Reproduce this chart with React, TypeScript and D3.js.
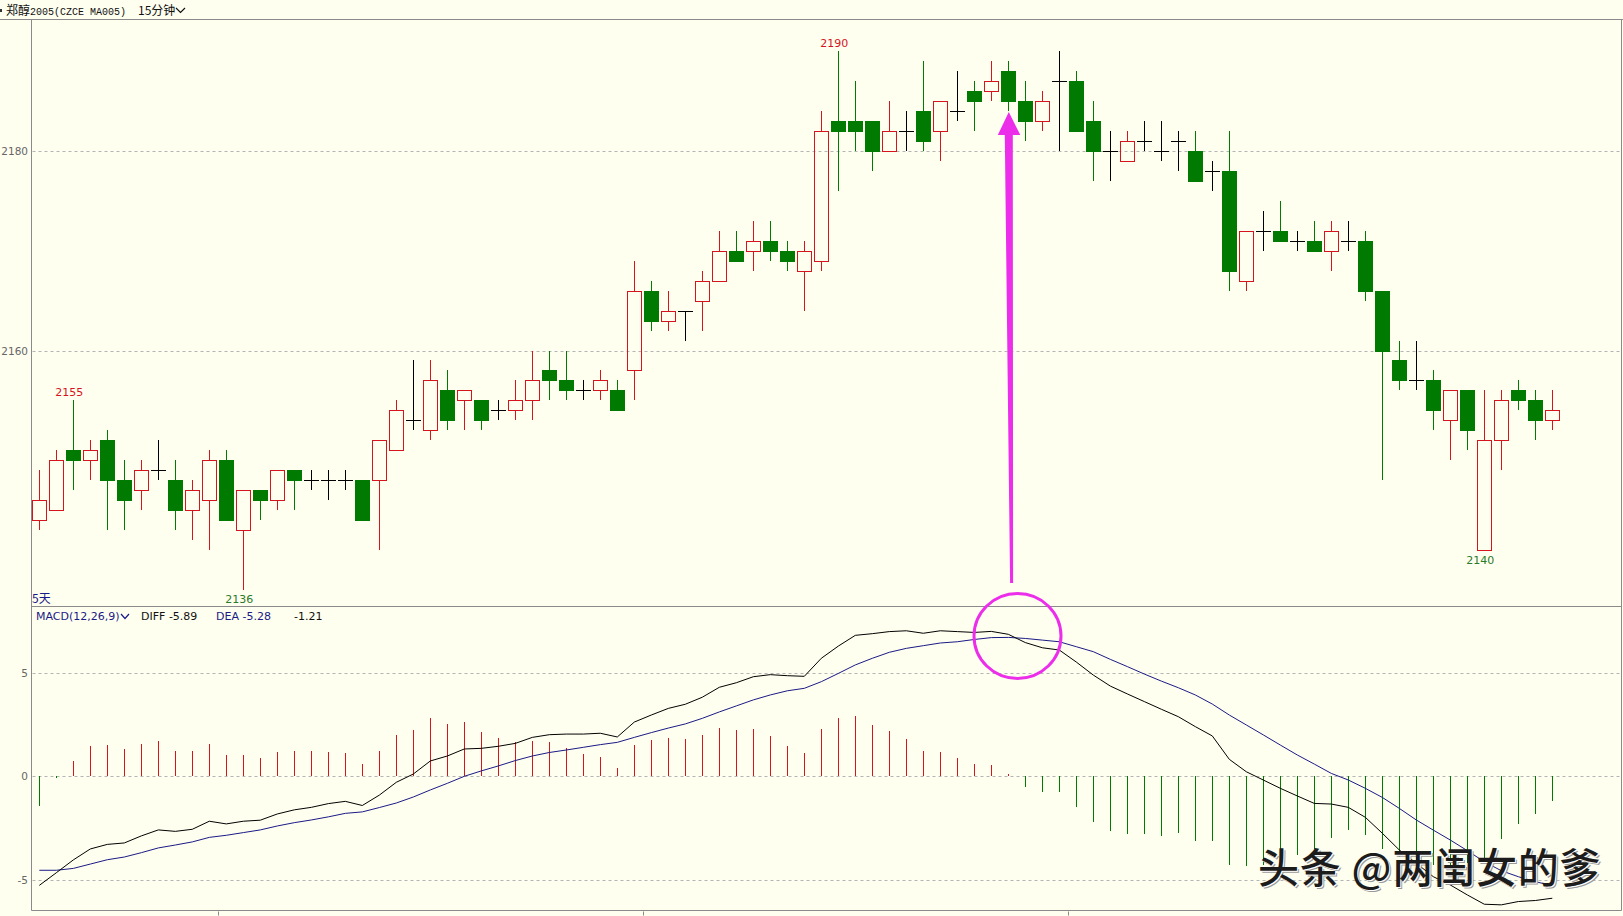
import React, { useEffect } from 'react';
import * as d3 from 'd3';

const W = 1623;
const H = 916;
const BG = '#fffff0';
const RED = '#d5141e';
const GREEN = '#007a00';
const NAVY = '#1a1a86';
const GRID = '#b4b4b4';
const FRAME = '#8a8a8a';
const MAGENTA = '#ec2eea';

// 15-minute candles, index 0..89
const opens = [2143,2144,2150,2149,2151,2147,2146,2148,2147,2144,2145,2149,2142,2146,2145,2148,2147,2147,2147,2147,2147,2150,2153,2152,2156,2155,2155,2154,2154,2155,2158,2157,2156,2156,2156,2158,2166,2163,2164,2165,2167,2170,2170,2171,2170,2168,2169,2183,2183,2183,2180,2182,2184,2182,2184,2186,2186,2188,2185,2183,2187,2187,2183,2180,2179,2181,2180,2181,2180,2178,2178,2167,2172,2172,2171,2171,2170,2171,2171,2166,2159,2157,2157,2153,2156,2140,2151,2156,2155,2153];
const highs = [2148,2150,2155,2151,2152,2149,2149,2151,2149,2147,2150,2150,2146,2146,2148,2148,2148,2148,2148,2147,2151,2155,2159,2159,2158,2156,2155,2155,2157,2160,2160,2160,2157,2158,2157,2169,2167,2166,2164,2168,2172,2172,2173,2173,2171,2171,2184,2190,2187,2183,2185,2184,2189,2185,2188,2187,2189,2189,2187,2186,2190,2188,2185,2182,2182,2183,2183,2182,2182,2179,2182,2172,2174,2175,2172,2173,2173,2173,2172,2166,2161,2161,2158,2156,2156,2156,2156,2157,2156,2156];
const lows = [2142,2144,2146,2147,2142,2142,2144,2147,2142,2141,2140,2143,2136,2143,2144,2144,2146,2145,2146,2143,2140,2150,2152,2151,2152,2152,2152,2153,2153,2153,2155,2155,2155,2155,2154,2155,2162,2162,2161,2162,2167,2169,2168,2169,2168,2164,2168,2176,2180,2178,2180,2180,2180,2179,2183,2182,2185,2184,2181,2182,2180,2182,2177,2177,2179,2180,2179,2178,2177,2176,2166,2166,2170,2171,2170,2170,2168,2170,2165,2147,2156,2156,2152,2149,2150,2140,2148,2154,2151,2152];
const closes = [2145,2149,2149,2150,2147,2145,2148,2148,2144,2146,2149,2143,2146,2145,2148,2147,2147,2147,2147,2143,2151,2154,2153,2157,2153,2156,2153,2154,2155,2157,2157,2156,2156,2157,2154,2166,2163,2164,2164,2167,2170,2169,2171,2170,2169,2170,2182,2182,2182,2180,2182,2182,2181,2185,2184,2185,2187,2185,2183,2185,2187,2182,2180,2180,2181,2181,2180,2181,2177,2178,2168,2172,2172,2171,2171,2170,2172,2171,2166,2160,2157,2157,2154,2156,2152,2151,2155,2155,2153,2154];

// MACD(12,26,9)
const diffLine = [-5.27,-4.66,-4.04,-3.51,-3.29,-3.22,-2.88,-2.59,-2.66,-2.56,-2.17,-2.30,-2.17,-2.12,-1.82,-1.62,-1.50,-1.32,-1.21,-1.41,-0.91,-0.29,0.11,0.74,0.98,1.32,1.35,1.45,1.59,1.88,2.01,2.04,2.04,2.08,1.90,2.62,2.96,3.28,3.48,3.82,4.30,4.52,4.81,4.91,4.86,4.83,5.70,6.29,6.81,6.89,6.99,7.03,6.91,7.03,6.99,6.95,7.00,6.86,6.46,6.21,6.10,5.52,4.89,4.36,3.98,3.61,3.24,2.88,2.40,1.95,0.82,0.22,-0.18,-0.58,-0.95,-1.31,-1.34,-1.50,-1.98,-2.75,-3.56,-4.20,-4.85,-5.25,-5.73,-6.18,-6.21,-6.05,-6.00,-5.89];
const deaLine = [-4.54,-4.54,-4.45,-4.24,-4.03,-3.90,-3.69,-3.46,-3.32,-3.17,-2.95,-2.85,-2.72,-2.59,-2.40,-2.24,-2.11,-1.96,-1.79,-1.72,-1.51,-1.29,-1.00,-0.66,-0.34,0.00,0.26,0.50,0.76,0.98,1.15,1.27,1.40,1.53,1.64,1.88,2.11,2.33,2.53,2.80,3.11,3.40,3.69,3.93,4.13,4.25,4.57,4.97,5.38,5.70,5.99,6.18,6.31,6.44,6.50,6.61,6.70,6.71,6.66,6.58,6.50,6.26,6.02,5.65,5.30,4.94,4.60,4.28,3.93,3.49,2.96,2.48,2.00,1.51,1.03,0.59,0.14,-0.18,-0.58,-1.02,-1.55,-2.11,-2.60,-3.08,-3.59,-4.13,-4.56,-4.85,-5.09,-5.28];
const macdBars = [-1.42,-0.08,0.74,1.48,1.51,1.33,1.58,1.72,1.24,1.24,1.58,1.01,1.01,0.90,1.19,1.24,1.24,1.19,1.13,0.61,1.24,2.01,2.25,2.83,2.54,2.64,2.15,1.86,1.64,1.72,1.66,1.37,1.08,0.93,0.40,1.51,1.75,1.86,1.80,2.01,2.33,2.23,2.28,1.95,1.46,1.11,2.28,2.82,2.92,2.48,2.19,1.80,1.22,1.17,0.88,0.59,0.54,0.11,-0.50,-0.74,-0.74,-1.47,-2.19,-2.63,-2.79,-2.79,-2.89,-2.73,-3.11,-3.11,-4.28,-4.33,-4.30,-4.10,-3.80,-3.50,-2.96,-2.60,-2.83,-3.50,-3.90,-4.10,-4.30,-4.30,-4.20,-4.10,-3.04,-2.30,-1.80,-1.21];

const priceTicks = [2160, 2180];
const macdTicks = [-5, 0, 5];
const extremeMarks = [
  { i: 2, kind: 'high' },
  { i: 12, kind: 'low' },
  { i: 47, kind: 'high' },
  { i: 85, kind: 'low' },
];
const dayBreaks = [10, 35, 60];
const arrowCandle = 57;

const NUM_FONT = '"DejaVu Sans", Verdana, sans-serif';
const CJK_FONT = '"Noto Sans CJK SC", sans-serif';

export default function App() {
  useEffect(() => {
    document.body.style.margin = '0';
    document.body.style.background = BG;
  }, []);

  const n = closes.length;
  const x = d3.scaleLinear().domain([0, n - 1]).range([39.3, 39.3 + 17 * (n - 1)]);
  const yP = d3.scaleLinear().domain([2160, 2180]).range([350.5, 151]);
  const yM = d3.scaleLinear().domain([0, 5]).range([776.3, 672.8]);

  const left = 31.5;
  const right = 1621.5;
  const top = 19.5;
  const divider = 606.5;
  const bottom = 910.5;

  const r = (v: number) => Math.round(v);
  const line = d3.line<number>().x((_, i) => x(i)).y((d) => yM(d));

  const candles = closes.map((c, i) => {
    const o = opens[i], h = highs[i], l = lows[i];
    const cx = r(x(i));
    const wx = cx + 0.5;
    if (c > o) {
      const yt = r(yP(c)), yb = r(yP(o));
      return (
        <g key={i}>
          {h > c && <line x1={wx} x2={wx} y1={r(yP(h))} y2={yt} stroke={RED} />}
          {l < o && <line x1={wx} x2={wx} y1={yb} y2={r(yP(l))} stroke={RED} />}
          <rect x={cx - 7 + 0.5} y={yt + 0.5} width={14} height={yb - yt} fill="none" stroke={RED} />
        </g>
      );
    } else if (c < o) {
      const yt = r(yP(o)), yb = r(yP(c));
      return (
        <g key={i}>
          <line x1={wx} x2={wx} y1={r(yP(h))} y2={r(yP(l))} stroke={GREEN} />
          <rect x={cx - 7} y={yt} width={15} height={yb - yt + 1} fill={GREEN} />
        </g>
      );
    }
    const yc = r(yP(c)) + 0.5;
    return (
      <g key={i}>
        <line x1={wx} x2={wx} y1={r(yP(h))} y2={r(yP(l))} stroke="#000" />
        <line x1={cx - 7} x2={cx + 8} y1={yc} y2={yc} stroke="#000" />
      </g>
    );
  });

  const bars = macdBars.map((v, i) => {
    const wx = r(x(i)) + 0.5;
    return (
      <line key={i} x1={wx} x2={wx} y1={r(yM(0))} y2={r(yM(v))} stroke={v >= 0 ? RED : GREEN} />
    );
  });

  const arrowX = x(arrowCandle) + 0.5;
  const tipY = 112;
  const headBase = 135;
  const arrowPts = [
    [arrowX - 11, headBase],
    [arrowX, tipY],
    [arrowX + 11.5, headBase],
    [arrowX + 4, headBase],
    [arrowX + 4.3, 583],
    [arrowX + 1.3, 583],
    [arrowX - 4, headBase],
  ].map((p) => p.join(',')).join(' ');

  return (
    <svg
      width={W}
      height={H}
      style={{ position: 'absolute', left: 0, top: 0, display: 'block', background: BG }}
    >
      <rect x={0} y={0} width={W} height={H} fill={BG} />

      {/* title */}
      <rect x={0} y={9} width={2} height={3} fill="#333" />
      <text x={6} y={15} fontSize={12} fill="#111">
        <tspan fontFamily={CJK_FONT}>郑醇</tspan>
        <tspan fontFamily='"Liberation Mono", "DejaVu Sans Mono", monospace' fontSize={10}>2005(CZCE MA005)</tspan>
        <tspan fontFamily={CJK_FONT} dx={12}>15</tspan>
        <tspan fontFamily={CJK_FONT}>分钟</tspan>
      </text>
      <path d="M176,8 L180.5,12.5 L185,8" fill="none" stroke="#111" strokeWidth={1.2} />

      {/* frame */}
      <line x1={0} x2={W} y1={top} y2={top} stroke={FRAME} />
      <line x1={left} x2={left} y1={top} y2={bottom} stroke={FRAME} />
      <line x1={right} x2={right} y1={top} y2={bottom} stroke={FRAME} />
      <line x1={left} x2={right} y1={divider} y2={divider} stroke={FRAME} />
      <line x1={left} x2={right} y1={bottom} y2={bottom} stroke={FRAME} />
      {dayBreaks.map((d) => {
        const tx = r(x(d) + 8.5) + 0.5;
        return <line key={d} x1={tx} x2={tx} y1={bottom + 1} y2={bottom + 5} stroke={FRAME} />;
      })}

      {/* price grid & labels */}
      {priceTicks.map((t) => (
        <g key={t}>
          <line x1={left + 1} x2={right - 1} y1={r(yP(t)) + 0.5} y2={r(yP(t)) + 0.5} stroke={GRID} strokeDasharray="3,3" />
          <text x={28} y={yP(t) + 4} fontSize={10.5} fontFamily={NUM_FONT} fill="#666" textAnchor="end">{t}</text>
        </g>
      ))}

      {/* candles */}
      {candles}

      {/* high/low labels */}
      {extremeMarks.map((m) => {
        const isHigh = m.kind === 'high';
        const v = isHigh ? highs[m.i] : lows[m.i];
        const yy = isHigh ? yP(v) - 4.5 : yP(v) + 13.5;
        return (
          <text key={m.i} x={x(m.i) - 4} y={yy} fontSize={11} fontFamily={NUM_FONT} textAnchor="middle" fill={isHigh ? RED : '#2a7a2a'}>
            {v}
          </text>
        );
      })}

      <text x={32} y={603} fontSize={12} fontFamily={CJK_FONT} fill={NAVY}>5天</text>

      {/* MACD panel */}
      <text y={620} fontSize={11} fontFamily={NUM_FONT}>
        <tspan x={36} fill={NAVY}>MACD(12,26,9)</tspan>
      </text>
      <path d="M121,614 L125,618.5 L129,614" fill="none" stroke={NAVY} strokeWidth={1.2} />
      <text y={620} fontSize={11} fontFamily={NUM_FONT}>
        <tspan x={141} fill="#111">DIFF {diffLine[n - 1].toFixed(2)}</tspan>
        <tspan x={216} fill={NAVY}>DEA {deaLine[n - 1].toFixed(2)}</tspan>
        <tspan x={294} fill="#111">{macdBars[n - 1].toFixed(2)}</tspan>
      </text>

      {macdTicks.map((t) => (
        <g key={t}>
          <line x1={left + 1} x2={right - 1} y1={r(yM(t)) + 0.5} y2={r(yM(t)) + 0.5} stroke={GRID} strokeDasharray="3,3" />
          <text x={28} y={yM(t) + 4} fontSize={10.5} fontFamily={NUM_FONT} fill="#666" textAnchor="end">{t}</text>
        </g>
      ))}

      {bars}
      <path d={line(deaLine) || ''} fill="none" stroke={NAVY} strokeWidth={1} />
      <path d={line(diffLine) || ''} fill="none" stroke="#000" strokeWidth={1} />

      {/* annotations */}
      <polygon points={arrowPts} fill={MAGENTA} />
      <ellipse cx={1017.5} cy={636} rx={43.5} ry={42.5} fill="none" stroke={MAGENTA} strokeWidth={3} />

      {/* watermark */}
      <g fontFamily={CJK_FONT} fontSize={41} fontWeight={500} letterSpacing={0.8}>
        <text x={1260} y={885} fill="#9a9a9a">头条 @两闺女的爹</text>
        <text x={1259} y={884} fill="#ffffff">头条 @两闺女的爹</text>
        <text x={1258} y={883} fill="#1c1c1c">头条 @两闺女的爹</text>
      </g>
    </svg>
  );
}
